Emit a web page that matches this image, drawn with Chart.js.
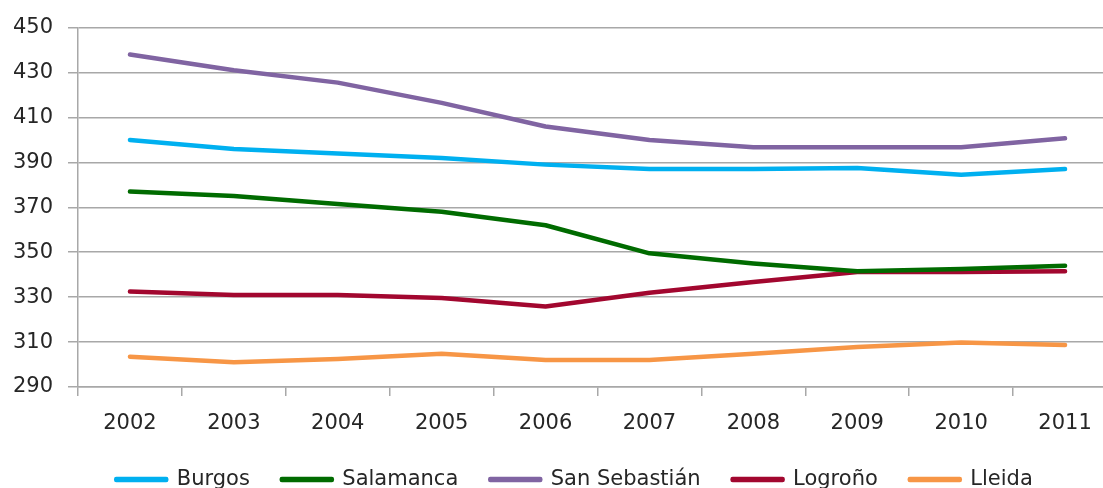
<!DOCTYPE html>
<html>
<head>
<meta charset="utf-8">
<script src="https://cdn.jsdelivr.net/npm/chart.js@4"></script>
<style>
  html, body { margin: 0; padding: 0; background: #fff; overflow: hidden; }
  #wrap { position: relative; width: 1150px; height: 500px; }
</style>
</head>
<body>
<div id="wrap"><canvas id="chart"></canvas></div>
<script>
// Años (categorías) y valores
const years = ["2002", "2003", "2004", "2005", "2006", "2007", "2008", "2009", "2010", "2011"]

const burgos       = [400, 396, 394, 392, 389, 387, 387, 387.5, 384.5, 387]
const salamanca    = [377, 375, 371.5, 368, 362, 349.5, 345, 341.5, 342.5, 344]
const sanSebastian = [438, 431, 425.5, 416.5, 406, 400, 396.7, 396.7, 396.7, 400.7]
const logrono      = [332.5, 331, 331, 329.6, 325.8, 332, 336.7, 341.2, 341.2, 341.5]
const lleida       = [303.5, 301, 302.5, 304.8, 302, 302, 304.8, 307.8, 309.8, 308.7]

const yTicks = [290, 310, 330, 350, 370, 390, 410, 430, 450]

const series = [
  { label: "Burgos", data: burgos, color: "#00B0F0" },
  { label: "Salamanca", data: salamanca, color: "#006B00" },
  { label: "San Sebastián", data: sanSebastian, color: "#8064A2" },
  { label: "Logroño", data: logrono, color: "#A2072F" },
  { label: "Lleida", data: lleida, color: "#F79646" },
]

const font = { family: "'DejaVu Sans', sans-serif", size: 21 }
const textColor = "#262626"
const gridColor = "#A8A8A8"

// desplaza la leyenda unos px a la derecha (en el original está algo descentrada)
const legendShift = {
  id: "legendShift",
  beforeInit(chart) {
    const legend = chart.legend
    if (!legend) return
    const draw = legend.draw
    legend.draw = function (...args) {
      const ctx = this.ctx
      ctx.save()
      ctx.translate(10, 0)
      draw.apply(this, args)
      ctx.restore()
    }
  },
}

new Chart(document.getElementById("chart"), {
  type: "line",
  data: {
    labels: years,
    datasets: series.map((s) => ({
      label: s.label,
      data: s.data,
      borderColor: s.color,
      backgroundColor: s.color,
      borderWidth: 4.5,
      borderCapStyle: "round",
      borderJoinStyle: "round",
      pointRadius: 0,
      tension: 0,
    })),
  },
  plugins: [legendShift],
  options: {
    responsive: true,
    maintainAspectRatio: false,
    animation: false,
    layout: { padding: { left: 12, top: 7, right: 33, bottom: 0 } },
    plugins: {
      legend: {
        position: "bottom",
        labels: {
          font,
          color: textColor,
          boxWidth: 50,
          boxHeight: 1,
          padding: 32,
        },
      },
      tooltip: { enabled: false },
    },
    scales: {
      x: {
        offset: true,
        afterFit: (scale) => { scale.height = 50 },
        grid: { display: true, drawOnChartArea: false, offset: true, tickLength: 9, color: gridColor, lineWidth: 1.5 },
        border: { color: gridColor, width: 1.5 },
        ticks: { font, color: textColor, padding: 15, maxRotation: 0 },
      },
      y: {
        min: 290,
        max: 450,
        afterFit: (scale) => { scale.width = 66 },
        afterBuildTicks: (axis) => { axis.ticks = yTicks.map((v) => ({ value: v })) },
        grid: { color: gridColor, lineWidth: 1.5, tickLength: 10 },
        border: { color: gridColor, width: 1.5 },
        ticks: { font, color: textColor, padding: 15 },
      },
    },
  },
})
</script>
</body>
</html>
